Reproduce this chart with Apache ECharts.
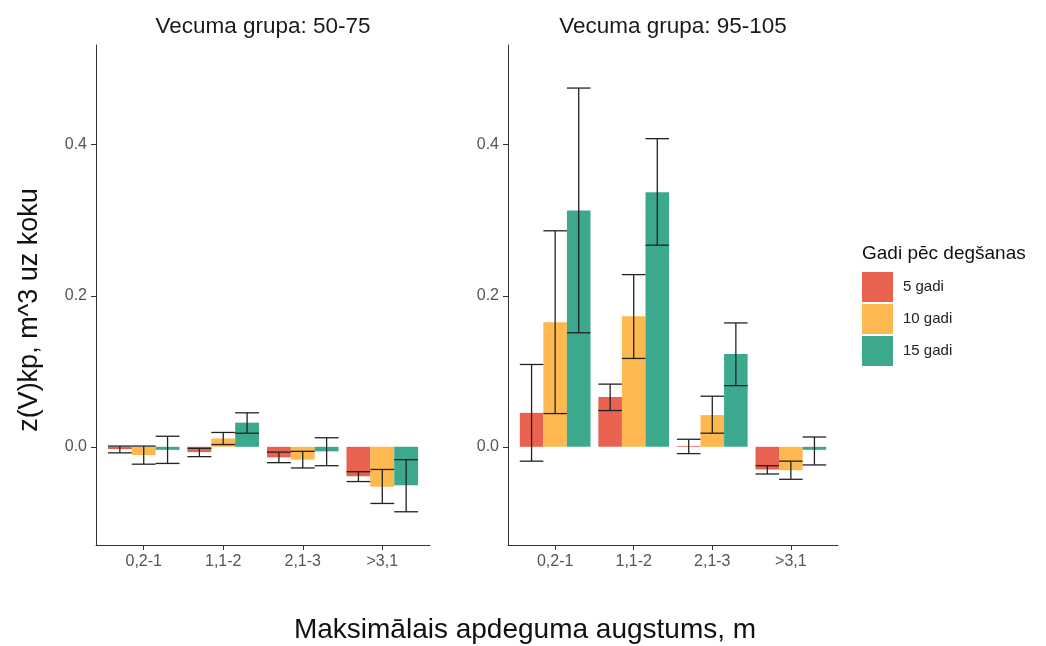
<!DOCTYPE html>
<html><head><meta charset="utf-8">
<script src="https://cdn.jsdelivr.net/npm/echarts@6/dist/echarts.min.js"></script>
<style>html,body{margin:0;padding:0;background:#fff}#c{width:1046px;height:646px}</style>
</head><body><div id="c"></div>
<script>
const categories = ['0,2-1', '1,1-2', '2,1-3', '>3,1'];
const groupNames = ['5 gadi', '10 gadi', '15 gadi'];
const panelTitles = ['Vecuma grupa: 50-75', 'Vecuma grupa: 95-105'];
const yTicks = [0, 0.2, 0.4];

// Panel 1: Vecuma grupa 50-75
const meanA5  = [-0.003, -0.007, -0.014, -0.039];
const lowA5   = [-0.008, -0.013, -0.021, -0.046];
const highA5  = [ 0.001, -0.002, -0.007, -0.033];
const meanA10 = [-0.011,  0.011, -0.017, -0.053];
const lowA10  = [-0.023,  0.003, -0.028, -0.075];
const highA10 = [ 0.001,  0.019, -0.006, -0.030];
const meanA15 = [-0.004,  0.032, -0.006, -0.051];
const lowA15  = [-0.022,  0.018, -0.025, -0.086];
const highA15 = [ 0.014,  0.045,  0.012, -0.017];

// Panel 2: Vecuma grupa 95-105
const meanB5  = [ 0.045,  0.066,  0.001, -0.030];
const lowB5   = [-0.019,  0.048, -0.009, -0.036];
const highB5  = [ 0.109,  0.083,  0.010, -0.025];
const meanB10 = [ 0.165,  0.173,  0.042, -0.031];
const lowB10  = [ 0.044,  0.117,  0.018, -0.043];
const highB10 = [ 0.286,  0.228,  0.067, -0.019];
const meanB15 = [ 0.313,  0.337,  0.123, -0.004];
const lowB15  = [ 0.151,  0.267,  0.081, -0.024];
const highB15 = [ 0.475,  0.408,  0.164,  0.013];

const colors = ['#E8624F', '#FDB84F', '#3CA98F'];
const FONT = "'Liberation Sans', Arial, sans-serif";
const BAR_W = 0.3;

const panels = [
  {means: [meanA5, meanA10, meanA15], lows: [lowA5, lowA10, lowA15], highs: [highA5, highA10, highA15]},
  {means: [meanB5, meanB10, meanB15], lows: [lowB5, lowB10, lowB15], highs: [highB5, highB10, highB15]}
];

const grids = [
  {left: 96, top: 45, width: 334, height: 500},
  {left: 508, top: 45, width: 330, height: 500}
];

function xAxisFor(i) {
  return {
    type: 'value', gridIndex: i, min: -0.6, max: 3.6,
    splitLine: {show: false},
    axisLine: {show: true, onZero: false, lineStyle: {color: '#333', width: 1}},
    axisTick: {show: true, customValues: [0, 1, 2, 3], length: 5, lineStyle: {color: '#333'}},
    axisLabel: {customValues: [0, 1, 2, 3], formatter: v => categories[Math.round(v)],
      color: '#555', fontSize: 16, fontFamily: FONT, margin: 9}
  };
}
function yAxisFor(i) {
  return {
    type: 'value', gridIndex: i, min: -0.13, max: 0.532,
    splitLine: {show: false},
    axisLine: {show: true, onZero: false, lineStyle: {color: '#333', width: 1}},
    axisTick: {show: true, customValues: yTicks, length: 5, lineStyle: {color: '#333'}},
    axisLabel: {customValues: yTicks, formatter: v => v.toFixed(1),
      color: '#555', fontSize: 16, fontFamily: FONT, margin: 9}
  };
}

const series = [];
panels.forEach((p, pi) => {
  groupNames.forEach((g, gi) => {
    series.push({
      type: 'custom', name: g, xAxisIndex: pi, yAxisIndex: pi,
      itemStyle: {color: colors[gi]},
      encode: {x: 0, y: 1},
      data: p.means[gi].map((m, ci) => [ci, m]),
      z: 2,
      renderItem: function (params, api) {
        const c = api.value(0), m = api.value(1);
        const x0 = c - 0.45 + gi * BAR_W;
        const a = api.coord([x0, 0]);
        const b = api.coord([x0 + BAR_W, m]);
        return {
          type: 'rect',
          shape: {x: a[0], y: Math.min(a[1], b[1]), width: b[0] - a[0], height: Math.abs(b[1] - a[1])},
          style: {fill: colors[gi]}
        };
      }
    });
  });
  const ebData = [];
  groupNames.forEach((g, gi) => {
    p.lows[gi].forEach((lo, ci) => ebData.push([ci, gi, lo, p.highs[gi][ci]]));
  });
  series.push({
    type: 'custom', name: 'err' + pi, xAxisIndex: pi, yAxisIndex: pi,
    encode: {x: 0, y: [2, 3]},
    data: ebData, z: 5, silent: true,
    renderItem: function (params, api) {
      const c = api.value(0), gi = api.value(1), lo = api.value(2), hi = api.value(3);
      const x0 = c - 0.45 + gi * BAR_W;
      const xm = x0 + BAR_W / 2;
      const pl = api.coord([x0, lo]), pr = api.coord([x0 + BAR_W, hi]);
      const pm = api.coord([xm, lo]), ph = api.coord([xm, hi]);
      const st = {stroke: '#222', lineWidth: 1.3};
      return {
        type: 'group', children: [
          {type: 'line', shape: {x1: pm[0], y1: pm[1], x2: ph[0], y2: ph[1]}, style: st},
          {type: 'line', shape: {x1: pl[0], y1: pl[1], x2: pr[0], y2: pl[1]}, style: st},
          {type: 'line', shape: {x1: pl[0], y1: pr[1], x2: pr[0], y2: pr[1]}, style: st}
        ]
      };
    }
  });
});

const chart = echarts.init(document.getElementById('c'), null, {renderer: 'canvas'});
chart.setOption({
  backgroundColor: '#fff',
  animation: false,
  grid: grids,
  xAxis: [xAxisFor(0), xAxisFor(1)],
  yAxis: [yAxisFor(0), yAxisFor(1)],
  legend: {
    orient: 'vertical', left: 857, top: 267,
    itemWidth: 31, itemHeight: 30, itemGap: 2, icon: 'rect',
    textStyle: {fontSize: 15, fontFamily: FONT, color: '#222', padding: [0, 0, 0, 5]},
    data: groupNames.map((g, i) => ({name: g, itemStyle: {color: colors[i]}}))
  },
  graphic: [
    {type: 'text', x: 263, y: 27, style: {text: panelTitles[0], font: '22.5px ' + FONT, fill: '#1a1a1a', textAlign: 'center', textVerticalAlign: 'middle'}},
    {type: 'text', x: 673, y: 27, style: {text: panelTitles[1], font: '22.5px ' + FONT, fill: '#1a1a1a', textAlign: 'center', textVerticalAlign: 'middle'}},
    {type: 'text', x: 525, y: 630, style: {text: 'Maksimālais apdeguma augstums, m', font: '28px ' + FONT, fill: '#111', textAlign: 'center', textVerticalAlign: 'middle'}},
    {type: 'text', x: 30, y: 310, rotation: Math.PI / 2, style: {text: 'z(V)kp, m^3 uz koku', font: '27px ' + FONT, fill: '#111', textAlign: 'center', textVerticalAlign: 'middle'}},
    {type: 'text', x: 862, y: 254, style: {text: 'Gadi pēc degšanas', font: '19px ' + FONT, fill: '#111', textAlign: 'left', textVerticalAlign: 'middle'}}
  ],
  series: series
});
</script></body></html>
